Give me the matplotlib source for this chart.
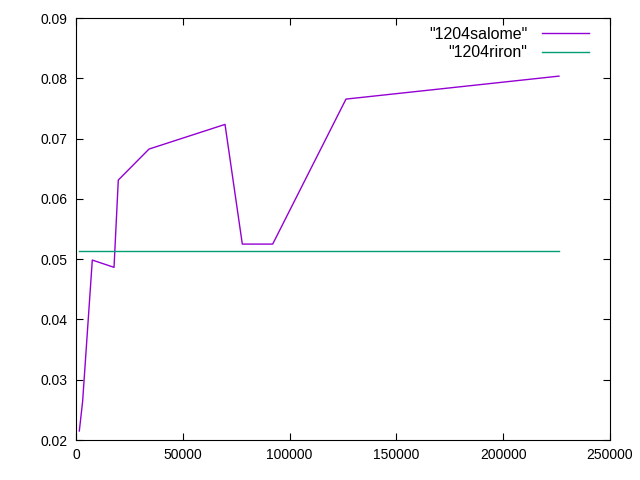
import matplotlib
matplotlib.use("Agg")
import matplotlib.pyplot as plt

plt.rcParams['font.family'] = ['Liberation Sans', 'DejaVu Sans']
plt.rcParams['font.size'] = 10

# 1204salome
salome_x = [1550, 3100, 7630, 17800, 19800, 34180, 69760, 77860, 92080, 126400, 226100]
salome_y = [0.0215, 0.0264, 0.04985, 0.04864, 0.06312, 0.06826, 0.07235, 0.0525, 0.0525, 0.07655, 0.08036]

# 1204riron
riron_x = [1550, 226100]
riron_y = [0.05135, 0.05135]

fig = plt.figure(figsize=(6.4, 4.8), dpi=100)
ax = fig.add_axes([0.11875, 0.0833, 0.8344, 0.8792])

ax.plot(salome_x, salome_y, color='#9400D3', lw=1.0, label='"1204salome"')
ax.plot(riron_x, riron_y, color='#009E73', lw=1.0, label='"1204riron"')

ax.set_xlim(0, 250000)
ax.set_ylim(0.02, 0.09)
ax.set_xticks([0, 50000, 100000, 150000, 200000, 250000])
ax.set_yticks([0.02, 0.03, 0.04, 0.05, 0.06, 0.07, 0.08, 0.09])
ax.set_xticklabels(['0', '50000', '100000', '150000', '200000', '250000'])
ax.set_yticklabels(['0.02', '0.03', '0.04', '0.05', '0.06', '0.07', '0.08', '0.09'])
ax.tick_params(direction='in', top=True, right=True, length=5, width=0.8, pad=6)
for s in ax.spines.values():
    s.set_linewidth(0.8)

ax.legend(loc='upper right', bbox_to_anchor=(0.981, 1.005), frameon=False, markerfirst=False,
          handlelength=2.95, handletextpad=0.9, labelspacing=0.2, borderaxespad=0.3,
          fontsize=11.5)

fig.savefig('out.png', dpi=100)
